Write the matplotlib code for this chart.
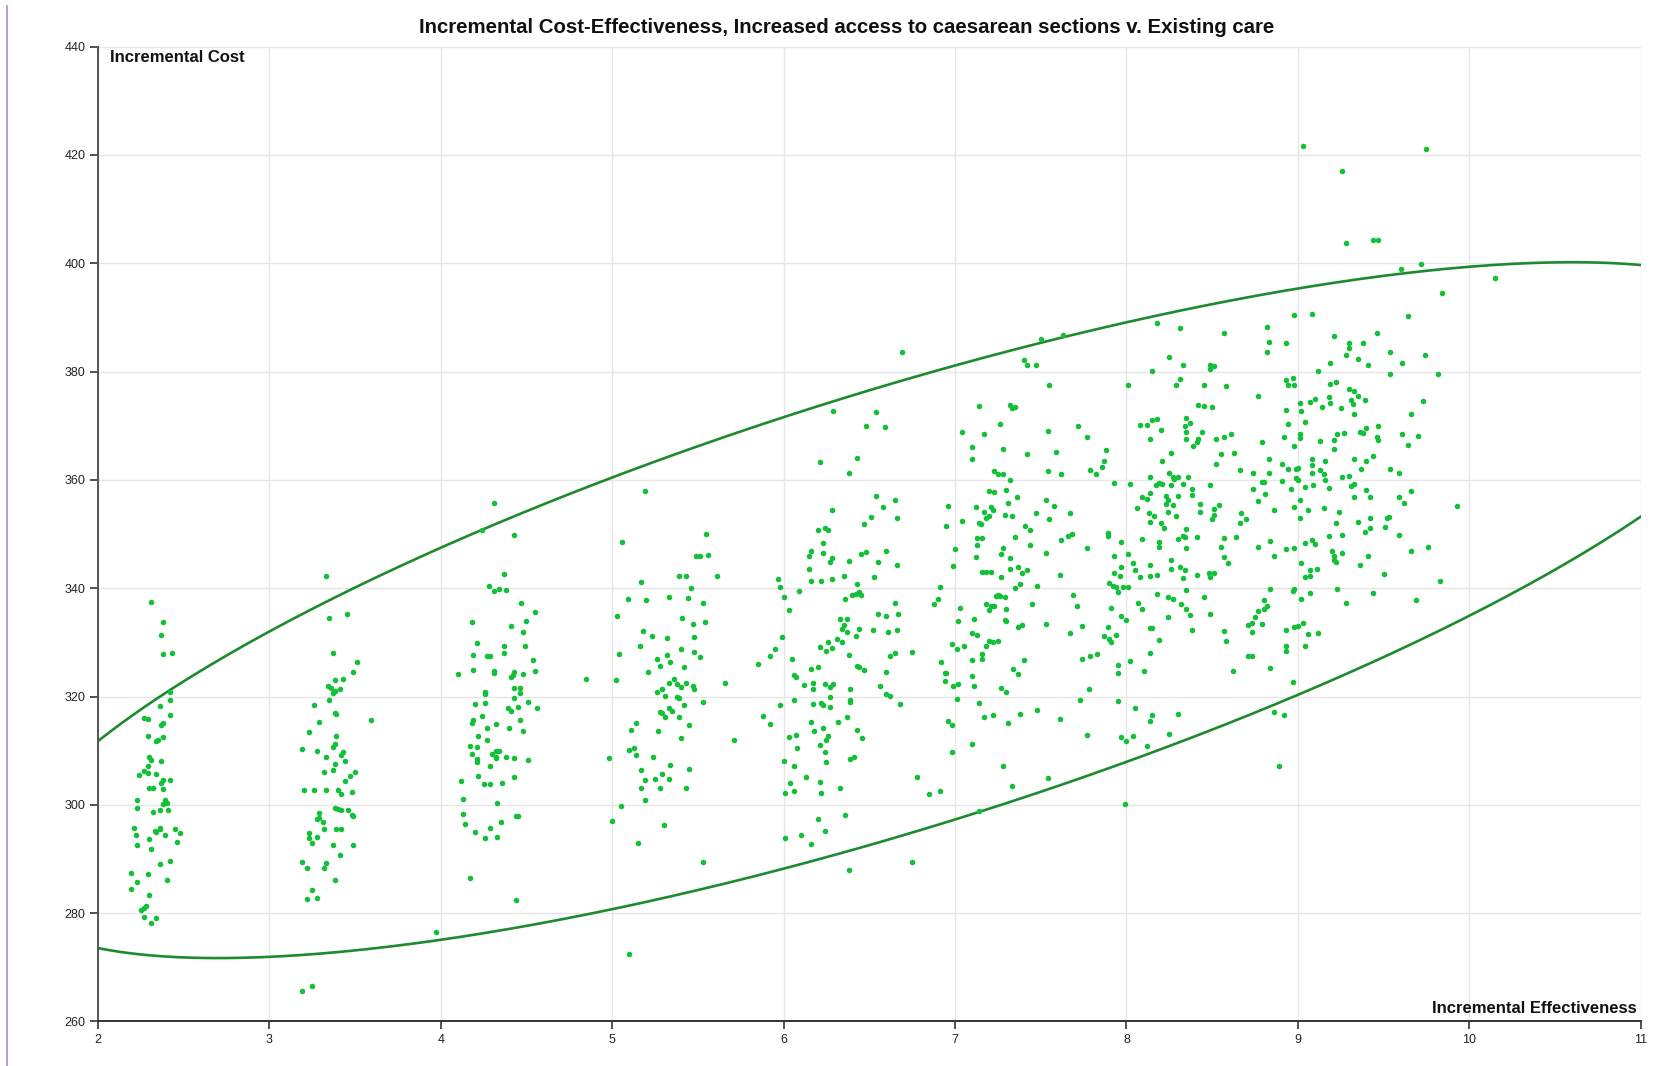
import numpy as np
import matplotlib

matplotlib.use("Agg")
import matplotlib.pyplot as plt
from matplotlib.lines import Line2D

plt.rcParams["font.family"] = ["Liberation Sans", "DejaVu Sans"]

TITLE = "Incremental Cost-Effectiveness, Increased access to caesarean sections v. Existing care"
X_LABEL = "Incremental Effectiveness"
Y_LABEL = "Incremental Cost"
X_TICKS = list(range(2, 12))
Y_TICKS = list(range(260, 441, 20))

# simulated (effectiveness, cost) pairs
pts_2x = [
    (2.31, 337.4), (2.38, 333.7), (2.37, 331.4), (2.38, 327.9), (2.43, 328.1), (2.42, 320.8),
    (2.42, 319.3), (2.36, 318.2), (2.42, 316.5), (2.27, 316.0), (2.29, 315.8), (2.38, 315.1),
    (2.37, 314.7), (2.29, 312.8), (2.38, 312.6), (2.34, 311.8), (2.35, 312.0), (2.30, 308.8),
    (2.31, 308.2), (2.37, 308.1), (2.29, 307.1), (2.27, 306.2), (2.29, 305.9), (2.24, 305.6),
    (2.34, 305.7), (2.38, 304.5), (2.42, 304.6), (2.37, 304.0), (2.30, 303.2), (2.32, 303.1),
    (2.38, 303.0), (2.23, 300.9), (2.39, 300.8), (2.40, 300.3), (2.38, 300.1), (2.23, 299.5),
    (2.32, 298.7), (2.36, 299.1), (2.41, 299.0), (2.21, 295.8), (2.36, 295.8), (2.36, 295.5),
    (2.33, 295.1), (2.34, 295.0), (2.45, 295.6), (2.48, 294.8), (2.22, 294.5), (2.39, 294.4),
    (2.30, 293.6), (2.46, 293.1), (2.23, 292.5), (2.31, 291.9), (2.42, 289.7), (2.36, 289.1),
    (2.19, 287.4), (2.29, 287.2), (2.40, 286.2), (2.23, 285.7), (2.19, 284.4), (2.30, 283.3),
    (2.28, 281.4), (2.27, 280.9), (2.25, 280.6), (2.27, 279.3), (2.34, 279.1), (2.31, 278.2),
]

pts_3x = [
    (3.33, 342.2), (3.35, 334.5), (3.45, 335.3), (3.37, 328.0), (3.51, 326.4), (3.49, 324.5),
    (3.43, 323.2), (3.38, 323.0), (3.34, 321.9), (3.36, 321.6), (3.38, 321.1), (3.41, 321.3),
    (3.37, 320.6), (3.35, 319.3), (3.26, 318.5), (3.38, 316.9), (3.39, 316.8), (3.29, 315.3),
    (3.23, 313.5), (3.59, 315.7), (3.39, 312.8), (3.38, 311.3), (3.37, 310.6), (3.19, 310.4),
    (3.28, 309.9), (3.43, 309.8), (3.42, 309.2), (3.33, 308.8), (3.44, 308.1), (3.38, 307.5),
    (3.32, 306.0), (3.37, 306.4), (3.50, 306.1), (3.47, 305.4), (3.44, 304.4), (3.20, 302.7),
    (3.26, 302.7), (3.33, 302.7), (3.40, 302.8), (3.42, 302.0), (3.48, 302.4), (3.38, 299.4),
    (3.40, 299.2), (3.42, 299.0), (3.46, 299.0), (3.29, 298.5), (3.29, 297.5), (3.28, 297.4),
    (3.31, 296.9), (3.48, 298.2), (3.49, 297.9), (3.32, 295.5), (3.39, 295.5), (3.42, 295.5),
    (3.23, 294.8), (3.23, 293.8), (3.28, 294.0), (3.25, 292.9), (3.37, 292.6), (3.49, 292.5),
    (3.41, 290.7), (3.19, 289.4), (3.22, 288.4), (3.33, 289.3), (3.32, 288.3), (3.38, 286.2),
    (3.25, 284.3), (3.22, 282.6), (3.28, 282.8), (3.19, 265.6), (3.25, 266.5),
]

pts_4x = [
    (4.31, 355.7), (4.24, 350.8), (4.43, 349.9), (4.37, 342.7), (4.28, 340.5), (4.31, 339.4),
    (4.34, 339.9), (4.38, 339.7), (4.47, 337.2), (4.55, 335.7), (4.50, 333.9), (4.18, 333.7),
    (4.41, 333.1), (4.48, 332.0), (4.21, 329.8), (4.37, 329.3), (4.49, 329.3), (4.19, 327.6),
    (4.27, 327.4), (4.29, 327.4), (4.37, 328.1), (4.54, 326.8), (4.19, 324.9), (4.31, 324.8),
    (4.31, 324.3), (4.43, 324.6), (4.42, 324.0), (4.41, 323.6), (4.55, 324.8), (4.48, 324.1),
    (4.10, 324.2), (4.43, 321.5), (4.46, 321.5), (4.46, 320.6), (4.26, 320.9), (4.26, 320.4),
    (4.43, 319.7), (4.20, 318.6), (4.26, 318.8), (4.51, 319.0), (4.56, 317.9), (4.39, 317.8),
    (4.41, 317.4), (4.45, 318.1), (4.24, 316.4), (4.19, 315.7), (4.18, 315.1), (4.32, 315.0),
    (4.27, 314.1), (4.46, 315.6), (4.40, 314.1), (4.48, 313.6), (4.22, 312.8), (4.27, 312.0),
    (4.17, 310.9), (4.21, 310.7), (4.32, 310.0), (4.34, 310.0), (4.18, 309.4), (4.21, 308.5),
    (4.21, 308.0), (4.30, 309.4), (4.32, 308.9), (4.32, 308.6), (4.38, 308.8), (4.43, 308.6),
    (4.51, 308.3), (4.29, 307.2), (4.22, 305.4), (4.43, 305.2), (4.12, 304.4), (4.25, 303.8),
    (4.29, 303.8), (4.36, 304.1), (4.13, 301.1), (4.33, 300.4), (4.13, 298.3), (4.14, 296.4),
    (4.44, 297.9), (4.45, 298.0), (4.20, 295.0), (4.35, 296.9), (4.29, 295.7), (4.26, 293.8),
    (4.33, 294.0), (4.17, 286.4), (4.44, 282.5), (3.97, 276.5),
]

pts_5x = [
    (4.85, 323.2), (5.02, 323.0), (5.19, 357.9), (5.06, 348.5), (5.17, 341.2), (5.20, 337.8),
    (5.09, 338.1), (5.03, 334.9), (5.39, 342.2), (5.43, 342.2), (5.46, 340.0), (5.44, 338.2),
    (5.33, 338.4), (5.49, 345.9), (5.41, 334.5), (5.47, 333.4), (5.48, 331.0), (5.18, 332.1),
    (5.23, 331.1), (5.32, 330.8), (5.16, 329.4), (5.04, 327.9), (5.40, 328.7), (5.48, 328.2),
    (5.26, 326.9), (5.32, 327.6), (5.34, 326.4), (5.28, 325.6), (5.21, 324.6), (5.42, 325.5),
    (5.36, 323.2), (5.33, 322.5), (5.38, 322.4), (5.40, 321.7), (5.43, 322.5), (5.47, 322.0),
    (5.48, 321.4), (5.26, 320.9), (5.29, 321.4), (5.31, 320.1), (5.38, 320.0), (5.39, 319.8),
    (5.42, 318.4), (5.28, 317.2), (5.29, 316.9), (5.31, 316.3), (5.33, 317.8), (5.35, 317.4),
    (5.39, 316.3), (5.45, 314.7), (5.27, 313.7), (5.40, 312.3), (5.14, 315.1), (5.11, 313.9),
    (5.10, 310.2), (5.13, 310.5), (5.14, 309.2), (4.98, 308.7), (5.24, 308.8), (5.17, 306.4),
    (5.34, 307.3), (5.45, 306.7), (5.19, 304.5), (5.25, 304.8), (5.29, 305.7), (5.33, 304.8),
    (5.17, 303.2), (5.28, 303.2), (5.43, 303.2), (5.19, 300.8), (5.05, 299.7), (5.00, 297.1),
    (5.30, 296.2), (5.15, 292.9), (5.55, 350.0), (5.51, 346.0), (5.56, 346.2), (5.61, 342.2),
    (5.53, 337.3), (5.54, 333.8), (5.51, 327.3), (5.53, 318.9), (5.66, 322.5), (5.71, 312.0),
    (5.53, 289.5), (5.10, 272.4),
]

pts_6x = [
    (6.29, 372.8), (6.54, 372.6), (6.48, 370.0), (6.59, 369.8), (6.21, 363.4), (6.43, 364.1),
    (6.38, 361.3), (6.54, 357.1), (6.65, 356.2), (6.58, 355.0), (6.28, 354.4), (6.51, 353.2),
    (6.47, 351.8), (6.66, 352.9), (6.20, 350.8), (6.24, 351.2), (6.26, 350.7), (6.23, 348.4),
    (6.16, 346.9), (6.15, 346.0), (6.23, 346.5), (6.28, 345.6), (6.27, 344.9), (6.38, 345.0),
    (6.60, 346.8), (6.55, 344.8), (6.45, 346.4), (6.48, 346.6), (6.66, 344.3), (6.15, 343.6),
    (6.16, 341.4), (6.22, 341.4), (6.28, 341.7), (6.35, 342.3), (6.53, 342.0), (5.97, 341.7),
    (5.98, 340.2), (6.00, 338.4), (6.09, 339.5), (6.43, 340.8), (6.40, 338.7), (6.42, 339.0),
    (6.44, 339.3), (6.45, 338.7), (6.36, 338.0), (6.03, 335.9), (6.65, 337.3), (6.55, 335.3),
    (6.60, 334.8), (6.67, 335.3), (6.33, 334.4), (6.37, 334.4), (6.35, 333.2), (6.34, 332.4),
    (6.37, 332.0), (6.44, 332.4), (6.52, 332.2), (6.61, 332.0), (6.66, 332.3), (6.42, 331.2),
    (5.99, 331.0), (5.95, 328.8), (5.92, 327.5), (5.85, 326.0), (6.21, 329.1), (6.26, 330.1),
    (6.25, 328.4), (6.28, 328.9), (6.31, 330.6), (6.34, 330.1), (6.38, 327.7), (6.62, 327.4),
    (6.65, 328.1), (6.75, 328.3), (6.05, 327.0), (6.06, 323.9), (6.07, 323.6), (6.16, 325.1),
    (6.20, 325.5), (6.43, 325.7), (6.44, 325.4), (6.47, 324.9), (6.60, 324.6), (6.12, 322.2),
    (6.17, 322.5), (6.17, 321.4), (6.24, 322.3), (6.27, 321.7), (6.29, 322.3), (6.39, 321.4),
    (6.56, 321.9), (6.60, 320.4), (6.62, 320.1), (6.06, 319.3), (5.98, 318.4), (6.17, 318.7),
    (6.22, 318.8), (6.23, 318.5), (6.27, 320.0), (6.27, 318.0), (6.39, 319.3), (6.39, 318.9),
    (6.68, 318.7), (5.88, 316.4), (5.92, 315.0), (6.16, 315.3), (6.37, 316.3), (6.32, 315.3),
    (6.18, 313.6), (6.23, 314.1), (6.26, 312.8), (6.25, 312.0), (6.43, 313.9), (6.46, 312.3),
    (6.03, 312.6), (6.07, 312.9), (6.08, 310.5), (6.21, 311.1), (6.24, 309.8), (6.00, 308.1),
    (6.06, 307.2), (6.25, 307.9), (6.39, 308.4), (6.41, 308.9), (6.13, 305.2), (6.21, 304.3),
    (6.04, 304.1), (6.01, 302.2), (6.06, 302.5), (6.22, 302.1), (6.33, 303.1), (6.78, 305.1),
    (6.85, 302.0), (6.91, 302.5), (6.20, 297.4), (6.36, 298.1), (6.24, 295.1), (6.01, 293.9),
    (6.10, 294.4), (6.16, 292.8), (6.75, 289.5), (6.38, 288.0), (6.69, 383.6),
]

pts_7x = [
    (7.14, 373.6), (7.04, 368.9), (7.17, 368.4), (7.10, 366.0), (7.10, 363.8), (7.23, 361.6),
    (7.20, 357.9), (7.23, 357.8), (6.96, 355.2), (7.12, 355.0), (7.21, 355.0), (7.22, 354.5),
    (7.17, 354.1), (7.20, 353.4), (7.18, 353.0), (7.14, 352.1), (7.15, 351.8), (6.95, 351.5),
    (7.04, 352.4), (7.13, 349.2), (7.16, 349.2), (7.13, 348.0), (7.00, 347.2), (7.12, 345.7),
    (6.99, 344.1), (7.16, 343.0), (7.18, 343.0), (7.21, 343.0), (6.91, 340.2), (6.90, 338.0),
    (6.88, 337.1), (7.03, 336.4), (7.18, 337.1), (7.21, 336.8), (7.23, 336.8), (7.20, 336.0),
    (7.24, 338.6), (7.02, 334.0), (7.11, 334.4), (7.10, 331.8), (7.13, 331.3), (6.98, 329.7),
    (7.01, 328.8), (7.05, 329.4), (7.18, 329.4), (7.20, 330.2), (7.22, 330.0), (7.10, 326.8),
    (7.16, 327.8), (7.16, 327.0), (6.92, 326.4), (6.94, 324.4), (6.95, 324.4), (6.94, 322.9),
    (7.10, 323.8), (6.99, 322.0), (7.02, 322.3), (7.11, 322.0), (7.01, 319.5), (7.14, 318.8),
    (7.17, 316.3), (7.22, 316.6), (6.96, 315.5), (6.98, 314.8), (7.10, 311.2), (6.98, 309.8),
    (7.14, 298.9),
]

pts_8x = [
    (7.50, 386.1), (7.63, 386.7), (8.18, 389.0), (8.31, 388.0), (8.57, 387.2), (8.82, 388.2),
    (8.83, 385.4), (8.93, 385.3), (8.82, 383.6), (8.98, 390.4), (7.40, 382.1), (7.42, 381.2),
    (7.47, 381.3), (8.25, 382.7), (8.33, 381.3), (8.15, 380.2), (8.49, 381.3), (8.51, 381.1),
    (8.49, 380.4), (7.55, 377.6), (8.01, 377.6), (8.31, 378.6), (8.29, 377.6), (8.45, 377.6),
    (8.58, 377.4), (8.93, 378.4), (8.97, 378.8), (8.94, 377.5), (8.98, 377.5), (8.77, 375.5),
    (7.32, 373.8), (7.33, 373.2), (7.35, 373.4), (8.42, 373.8), (8.45, 373.6), (8.50, 373.5),
    (7.26, 370.3), (7.54, 369.1), (7.72, 369.9), (7.77, 368.0), (8.08, 370.1), (8.12, 370.2),
    (8.15, 371.1), (8.18, 371.3), (8.20, 369.3), (8.35, 371.5), (8.37, 370.5), (8.34, 369.9),
    (8.35, 368.8), (8.35, 367.6), (8.44, 368.8), (8.42, 367.6), (8.41, 367.0), (8.39, 366.2),
    (8.14, 367.5), (8.52, 367.6), (8.57, 368.0), (8.61, 368.4), (8.93, 372.9), (8.94, 370.4),
    (8.92, 368.0), (8.98, 366.2), (8.79, 367.0), (7.28, 365.8), (7.42, 364.7), (7.59, 365.2),
    (7.88, 365.5), (7.87, 363.5), (7.86, 362.4), (7.79, 361.8), (7.82, 361.0), (7.54, 361.7),
    (7.62, 361.1), (8.21, 363.5), (8.26, 364.9), (8.55, 364.7), (8.63, 364.9), (8.52, 363.0),
    (8.83, 363.8), (8.91, 363.0), (8.94, 362.0), (8.99, 362.0), (8.66, 361.8), (8.74, 361.3),
    (8.83, 361.2), (8.80, 359.7), (8.91, 359.8), (8.96, 358.3), (8.99, 360.3), (7.25, 361.1),
    (7.28, 361.1), (7.32, 359.9), (7.93, 359.4), (8.02, 359.2), (8.14, 360.5), (8.17, 359.1),
    (8.19, 359.4), (8.21, 359.3), (8.25, 361.2), (8.27, 360.5), (8.28, 360.1), (8.30, 360.5),
    (8.33, 359.2), (8.36, 360.5), (8.38, 358.3), (8.38, 357.3), (8.26, 359.1), (8.49, 359.1),
    (8.74, 358.3), (8.79, 359.6), (8.81, 357.4), (8.77, 356.1), (7.30, 358.1), (7.31, 355.8),
    (7.36, 356.8), (7.29, 353.5), (7.33, 353.4), (7.53, 356.2), (7.58, 355.1), (7.47, 353.9),
    (7.55, 352.7), (7.67, 353.9), (8.09, 356.9), (8.12, 356.4), (8.14, 357.6), (8.06, 354.8),
    (8.13, 353.9), (8.16, 353.3), (8.14, 352.2), (8.20, 352.0), (8.22, 351.2), (8.23, 357.1),
    (8.24, 356.3), (8.23, 355.6), (8.27, 355.3), (8.24, 354.1), (8.29, 353.3), (8.30, 357.0),
    (8.43, 355.6), (8.43, 354.1), (8.51, 353.6), (8.51, 354.7), (8.54, 355.4), (8.50, 352.8),
    (8.67, 353.9), (8.70, 352.7), (8.66, 352.0), (8.86, 354.5), (8.98, 355.0), (7.41, 351.4),
    (7.44, 350.7), (7.35, 349.4), (7.44, 347.9), (7.62, 348.9), (7.66, 349.7), (7.68, 350.1),
    (7.89, 350.2), (7.89, 349.7), (7.97, 348.5), (7.77, 347.5), (7.27, 346.3), (7.28, 347.5),
    (7.32, 345.6), (7.53, 346.5), (7.93, 346.0), (7.97, 344.0), (8.01, 346.4), (8.09, 349.0),
    (8.19, 348.5), (8.19, 347.7), (8.35, 351.0), (8.34, 349.4), (8.33, 349.7), (8.30, 349.1),
    (8.35, 347.5), (8.41, 349.5), (8.55, 347.7), (8.57, 349.3), (8.64, 349.5), (8.77, 347.7),
    (8.84, 348.7), (8.93, 347.2), (8.86, 345.9), (8.98, 347.5), (8.57, 345.8), (8.59, 344.6),
    (7.27, 342.1), (7.32, 343.5), (7.37, 344.0), (7.39, 342.8), (7.42, 343.4), (7.61, 342.5),
    (7.93, 342.9), (7.96, 342.3), (8.04, 344.7), (8.05, 343.4), (8.08, 342.0), (8.14, 344.3),
    (8.14, 342.3), (8.18, 342.5), (8.26, 345.3), (8.26, 343.5), (8.31, 343.9), (8.33, 341.8),
    (8.34, 343.4), (8.41, 342.4), (8.48, 342.8), (8.49, 342.1), (8.51, 342.8), (7.35, 340.0),
    (7.38, 340.7), (7.48, 340.4), (7.25, 338.7), (7.26, 338.6), (7.29, 338.3), (7.90, 341.0),
    (7.92, 340.4), (7.94, 340.2), (7.98, 340.2), (8.01, 340.2), (7.95, 339.3), (8.35, 339.6),
    (8.45, 338.3), (8.18, 338.9), (8.24, 338.4), (8.27, 338.1), (7.45, 337.1), (7.69, 338.7),
    (7.71, 336.8), (7.30, 336.2), (7.29, 334.1), (7.30, 333.9), (7.37, 332.9), (7.39, 333.2),
    (7.53, 333.4), (7.67, 331.7), (7.74, 333.1), (7.91, 336.3), (7.97, 334.8), (8.00, 334.2),
    (7.89, 332.9), (7.94, 331.4), (7.87, 331.2), (7.90, 330.6), (7.91, 330.1), (8.07, 337.2),
    (8.09, 336.1), (8.14, 332.6), (8.15, 332.7), (8.19, 330.5), (8.24, 334.6), (8.32, 337.1),
    (8.35, 336.2), (8.37, 335.0), (8.38, 332.3), (8.49, 335.2), (8.57, 332.1), (8.58, 330.2),
    (8.71, 333.3), (8.73, 333.6), (8.73, 331.9), (8.75, 334.6), (8.77, 335.8), (8.79, 333.4),
    (8.80, 336.2), (8.82, 336.8), (8.80, 337.9), (8.84, 339.8), (8.98, 339.8), (8.97, 339.5),
    (8.93, 332.3), (8.98, 332.9), (7.25, 330.2), (7.34, 325.0), (7.37, 324.2), (7.40, 326.7),
    (7.74, 326.9), (7.79, 327.4), (7.83, 327.8), (7.95, 325.9), (7.95, 324.3), (8.02, 326.6),
    (8.10, 324.8), (8.14, 328.0), (8.62, 324.7), (8.71, 327.5), (8.73, 327.5), (8.84, 325.2),
    (8.93, 329.4), (8.93, 328.4), (8.97, 322.7), (7.27, 321.5), (7.30, 320.8), (7.73, 319.3),
    (7.78, 321.3), (7.95, 319.1), (8.05, 317.8), (8.14, 315.5), (8.15, 316.6), (8.30, 316.8),
    (7.38, 316.8), (7.48, 317.5), (7.61, 315.9), (7.31, 315.2), (7.77, 312.9), (7.97, 312.5),
    (8.00, 311.8), (8.04, 312.7), (8.12, 310.9), (8.25, 313.1), (8.86, 317.1), (8.92, 316.5),
    (7.28, 307.1), (7.33, 303.5), (7.54, 305.0), (8.89, 307.2), (7.99, 300.1),
]

pts_9x = [
    (9.03, 421.7), (9.75, 421.1), (9.26, 417.0), (9.28, 403.7), (9.44, 404.3), (9.47, 404.3),
    (9.60, 398.9), (9.72, 399.9), (10.15, 397.3), (9.84, 394.5), (9.08, 390.7), (9.64, 390.2),
    (9.21, 386.5), (9.30, 385.3), (9.30, 384.4), (9.38, 385.3), (9.46, 387.2), (9.28, 383.0),
    (9.35, 382.3), (9.41, 381.2), (9.54, 383.6), (9.61, 381.5), (9.74, 383.0), (9.19, 381.6),
    (9.12, 380.2), (9.54, 379.5), (9.82, 379.5), (9.19, 377.8), (9.22, 378.1), (9.30, 376.7),
    (9.33, 376.4), (9.18, 375.3), (9.19, 374.2), (9.07, 374.3), (9.10, 375.0), (9.31, 374.8),
    (9.32, 374.0), (9.35, 375.5), (9.39, 374.7), (9.25, 373.3), (9.14, 373.4), (9.02, 372.8),
    (9.01, 374.2), (9.33, 372.1), (9.73, 374.6), (9.66, 372.1), (9.04, 370.7), (9.01, 368.4),
    (9.01, 367.7), (9.13, 367.2), (9.21, 367.3), (9.21, 365.7), (9.23, 368.4), (9.27, 368.6),
    (9.36, 368.9), (9.38, 368.6), (9.40, 369.5), (9.47, 370.0), (9.46, 368.0), (9.47, 367.4),
    (9.61, 368.4), (9.70, 368.1), (9.64, 366.5), (9.44, 364.4), (9.40, 363.5), (9.33, 363.8),
    (9.37, 362.1), (9.16, 363.5), (9.08, 363.8), (9.08, 362.7), (9.00, 362.2), (9.13, 361.9),
    (9.15, 361.1), (9.08, 361.2), (9.30, 360.8), (9.26, 360.6), (9.16, 359.9), (9.00, 360.0),
    (9.04, 358.7), (9.09, 359.0), (9.18, 358.5), (9.31, 358.9), (9.33, 359.2), (9.33, 356.9),
    (9.40, 358.2), (9.42, 356.9), (9.54, 362.1), (9.59, 361.3), (9.59, 356.9), (9.62, 355.8),
    (9.66, 358.0), (9.93, 355.1), (9.01, 356.2), (9.06, 354.4), (9.15, 354.8), (9.24, 354.1),
    (9.01, 352.9), (9.22, 352.1), (9.35, 352.2), (9.42, 352.9), (9.42, 351.1), (9.39, 350.3),
    (9.51, 351.3), (9.52, 352.9), (9.53, 353.2), (9.18, 349.7), (9.26, 349.9), (9.59, 349.9),
    (9.08, 348.9), (9.04, 348.3), (9.10, 348.2), (9.20, 346.8), (9.21, 345.9), (9.21, 345.2),
    (9.22, 344.9), (9.26, 346.5), (9.41, 345.9), (9.66, 346.8), (9.76, 347.7), (9.36, 344.3),
    (9.02, 344.6), (9.07, 343.3), (9.11, 343.6), (9.07, 342.3), (9.04, 342.0), (9.50, 342.7),
    (9.83, 341.4), (9.23, 339.8), (9.07, 339.1), (9.44, 339.2), (9.02, 338.0), (9.69, 337.9),
    (9.28, 337.3), (9.03, 333.6), (9.00, 333.0), (9.06, 331.6), (9.12, 331.8), (9.04, 329.3),
]

# 95% confidence ellipse, as drawn on the chart
ELLIPSE_MEAN = (6.65, 335.95)
ELLIPSE_COV = [[4.55, 42.36], [42.36, 689.0]]
CHI2_95 = 5.991

POINT_COLOR = "#14c03a"
ELLIPSE_COLOR = "#1e8a2e"


def ellipse_xy(mean, cov, scale, n=600):
    t = np.linspace(0, 2 * np.pi, n)
    chol = np.linalg.cholesky(np.array(cov, dtype=float))
    ring = chol @ (np.vstack([np.cos(t), np.sin(t)]) * np.sqrt(scale))
    return mean[0] + ring[0], mean[1] + ring[1]


def main() -> None:
    pts = np.array(pts_2x + pts_3x + pts_4x + pts_5x + pts_6x + pts_7x + pts_8x + pts_9x)

    fig = plt.figure(figsize=(16.63, 10.66), dpi=100)
    ax = fig.add_axes([0.0589, 0.0418, 0.9277, 0.9144])

    ax.scatter(pts[:, 0], pts[:, 1], s=16, color=POINT_COLOR, linewidths=0, zorder=3)

    ex, ey = ellipse_xy(ELLIPSE_MEAN, ELLIPSE_COV, CHI2_95)
    ax.plot(ex, ey, color=ELLIPSE_COLOR, lw=1.9, zorder=2)

    ax.set_xlim(X_TICKS[0], X_TICKS[-1])
    ax.set_ylim(Y_TICKS[0], Y_TICKS[-1])
    ax.set_xticks(X_TICKS)
    ax.set_yticks(Y_TICKS)
    ax.grid(True, color="#e6e6e6", lw=1.0)
    ax.set_axisbelow(True)

    for side in ("top", "right"):
        ax.spines[side].set_visible(False)
    ax.spines["left"].set_color("#555555")
    ax.spines["bottom"].set_color("#333333")
    for side in ("left", "bottom"):
        ax.spines[side].set_linewidth(1.4)
    ax.tick_params(direction="out", length=6, width=1.2, color="#333333",
                   labelsize=9, labelcolor="#222222", pad=3)

    ax.text(0.0078, 0.9894, Y_LABEL, transform=ax.transAxes, ha="left", va="center",
            fontsize=12, fontweight="bold", color="#111111")
    ax.text(0.9976, 0.0137, X_LABEL, transform=ax.transAxes, ha="right", va="center",
            fontsize=12, fontweight="bold", color="#111111")
    fig.text(0.509, 0.974, TITLE, ha="center", va="center",
             fontsize=14.7, fontweight="bold", color="#111111")

    # thin purple page border on the left edge of the screenshot
    fig.add_artist(Line2D([7 / 1663, 7 / 1663], [0, 1 - 6 / 1066],
                          transform=fig.transFigure, color="#b58ac6", lw=1.2))

    fig.savefig("out.png", dpi=100)
    plt.close(fig)


if __name__ == "__main__":
    main()
